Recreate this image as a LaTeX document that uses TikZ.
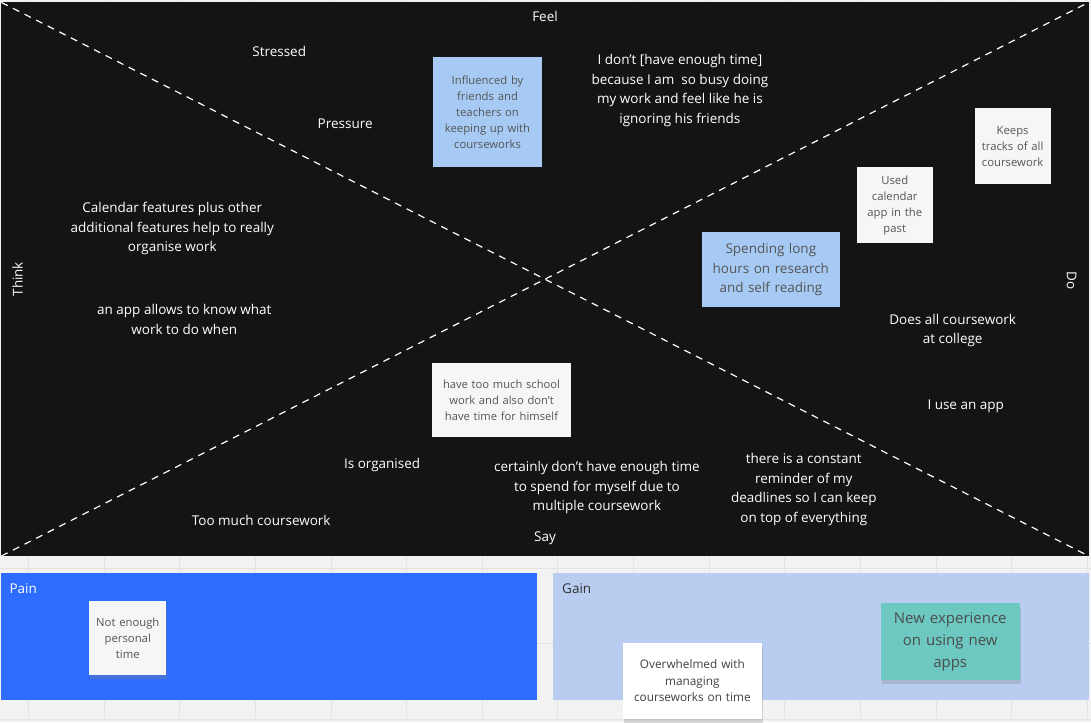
\documentclass[tikz,border=0pt]{standalone}
\usepackage{fontspec}
\setmainfont{Open Sans}
\usetikzlibrary{shadows}
\definecolor{canvasbg}{RGB}{242,242,242}
\definecolor{gridc}{RGB}{228,228,228}
\definecolor{boardbg}{RGB}{20,20,20}
\definecolor{stickyblue}{RGB}{166,202,244}
\definecolor{stickywhite}{RGB}{245,246,248}
\definecolor{stickytext}{RGB}{85,85,85}
\definecolor{painblue}{RGB}{45,108,255}
\definecolor{gainblue}{RGB}{184,205,240}
\definecolor{teal}{RGB}{108,200,192}
\begin{document}
\begin{tikzpicture}[x=1pt,y=-1pt,
  lbl/.style={text=white, font=\fontsize{13.5}{19.5}\selectfont, align=center, inner sep=0pt},
  sticky/.style={inner sep=0pt, text=stickytext, align=center, font=\fontsize{11.3}{16}\selectfont},
  shad/.style={drop shadow={opacity=0.3, shadow xshift=1pt, shadow yshift=-4pt}},
  diag/.style={white, dashed, line width=1.2pt, dash pattern=on 7pt off 6pt}
]
% canvas
\fill[canvasbg] (0,0) rectangle (1091,722);
\foreach \gx in {28,103.7,...,1091} \draw[gridc, line width=0.8pt] (\gx,0) -- (\gx,722);
\foreach \gy in {568,643.7,719.4} \draw[gridc, line width=0.8pt] (0,\gy) -- (1091,\gy);
% board
\fill[boardbg] (1,2) rectangle (1089,556);
\coordinate (tl) at (1,2);
\coordinate (tr) at (1089,2);
\coordinate (bl) at (1,556);
\coordinate (br) at (1089,556);
\draw[diag] (tl) -- (br);
\draw[diag] (bl) -- (tr);
% axis labels
\node[lbl] (feel) at (545,16) {Feel};
\node[lbl] (say) at (545,538) {Say};
\node[lbl, rotate=90] (think) at (17,279) {Think};
\node[lbl, rotate=-90] (do) at (1072,280) {Do};
% feel
\node[lbl] (stressed) at (279,51) {Stressed};
\node[lbl] (pressure) at (345,123) {Pressure};
\node[sticky, fill=stickyblue, minimum width=109pt, minimum height=110pt, text width=104pt] (infl) at (487.5,112) {Influenced by\\friends and\\teachers on\\keeping up with\\courseworks};
\node[lbl] (dont) at (680,90) {I don’t [have enough time]\\because I am\ \ so busy doing\\my work and feel like he is\\ignoring his friends};
% do
\node[sticky, fill=stickywhite, minimum width=76pt, minimum height=76pt, text width=74pt] (keeps) at (1013,146) {Keeps\\tracks of all\\coursework};
\node[sticky, fill=stickywhite, minimum width=76pt, minimum height=76pt, text width=74pt] (used) at (895,205) {Used\\calendar\\app in the\\past};
\node[sticky, fill=stickyblue, minimum width=138pt, minimum height=75pt, text width=130pt, font=\fontsize{13.5}{19.5}\selectfont] (spend) at (771,269.5) {Spending long\\hours on research\\and self reading};
\node[lbl] (does) at (953,330.5) {Does all coursework\\at college};
\node[lbl] (useapp) at (966,406) {I use an app};
% think
\node[lbl] (calendar) at (172,228.5) {Calendar features plus other\\additional features help to really\\organise work};
\node[lbl] (knowapp) at (184,319.5) {an app allows to know what\\work to do when};
% say
\node[sticky, fill=stickywhite, minimum width=139pt, minimum height=74pt, text width=135pt, font=\fontsize{11.2}{16}\selectfont] (toomuch) at (501.5,400) {have too much school\\work and also don't\\have time for himself};
\node[lbl] (organised) at (382,465) {Is organised};
\node[lbl] (certainly) at (597,487.5) {certainly don’t have enough time\\to spend for myself due to\\multiple coursework};
\node[lbl] (reminder) at (804,489.5) {there is a constant\\reminder of my\\deadlines so I can keep\\on top of everything};
\node[lbl] (toomuchcw) at (261,520) {Too much coursework};
% pain / gain
\node[fill=painblue, minimum width=536pt, minimum height=127pt, inner sep=0pt] (pain) at (269,636.5) {};
\node[anchor=west, text=white, font=\fontsize{13.5}{16}\selectfont, inner sep=0pt] (painlbl) at (9,589) {Pain};
\node[fill=gainblue, minimum width=536pt, minimum height=127pt, inner sep=0pt] (gain) at (821,636.5) {};
\node[anchor=west, text=black!80, font=\fontsize{13.5}{16}\selectfont, inner sep=0pt] (gainlbl) at (562,589) {Gain};
\node[sticky, shad, fill=stickywhite, minimum width=77pt, minimum height=74pt, text width=75pt] (notenough) at (127.5,638) {Not enough\\personal\\time};
\node[sticky, shad, fill=teal, minimum width=139pt, minimum height=77pt, text width=132pt, font=\fontsize{15}{22}\selectfont, text=black!70] (newexp) at (950.5,641.5) {New experience\\on using new\\apps};
\node[sticky, shad, fill=white, minimum width=139pt, minimum height=76pt, text width=135pt, text=black!75, font=\fontsize{11.8}{16.5}\selectfont] (overwhelmed) at (692.5,681) {Overwhelmed with\\managing\\courseworks on time};
\end{tikzpicture}
\end{document}
